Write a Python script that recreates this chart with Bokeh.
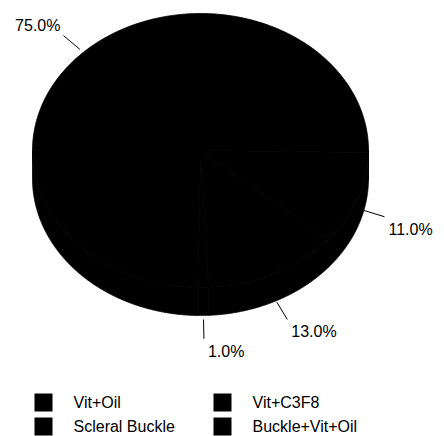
import numpy as np
from bokeh.plotting import figure
from bokeh.models import Range1d
from bokeh.core.properties import value
from bokeh.embed import file_html
from bokeh.resources import INLINE

# ---- data ----
categories = ["Vit+Oil", "Vit+C3F8", "Scleral Buckle", "Buckle+Vit+Oil"]
percents = [75.0, 11.0, 13.0, 1.0]
pct_labels = ["75.0%", "11.0%", "13.0%", "1.0%"]
colors = ["#000000", "#000000", "#000000", "#000000"]

# ---- geometry (screen-like coordinates, y downward) ----
W, H = 444, 436
cx, cy = 200.0, 150.0
a, b = 168.0, 137.0
depth = 28.0
start_deg = 269.2  # slices go clockwise from here
FONT = "Liberation Sans"

p = figure(width=W, height=H, output_backend="svg", toolbar_location=None,
           x_range=Range1d(0, W), y_range=Range1d(H, 0),
           min_border=0, min_border_left=0, min_border_right=0,
           min_border_top=0, min_border_bottom=0)
p.axis.visible = False
p.grid.visible = False
p.outline_line_color = None
p.background_fill_color = "white"
p.border_fill_color = "white"

total = sum(percents)
angles = np.cumsum([0.0] + [v / total * 360.0 for v in percents])

def ell(theta_deg, r=1.0, dz=0.0):
    t = np.radians(theta_deg)
    return cx + r * a * np.cos(t), cy - r * b * np.sin(t) + dz

# side walls first (front half only: angles in [k*360-180, k*360])
for i, v in enumerate(percents):
    t0 = start_deg - angles[i]
    t1 = start_deg - angles[i + 1]
    lo, hi = min(t0, t1), max(t0, t1)
    for k in (-1, 0, 1, 2):
        f_lo, f_hi = k * 360.0 - 180.0, k * 360.0
        s_lo, s_hi = max(lo, f_lo), min(hi, f_hi)
        if s_hi - s_lo <= 0:
            continue
        ts = np.linspace(s_lo, s_hi, 150)
        xs_top, ys_top = ell(ts)
        xs = list(xs_top) + list(xs_top[::-1])
        ys = list(ys_top) + list((ys_top + depth)[::-1])
        p.patch(xs, ys, fill_color=colors[i], line_color="black", line_width=0.8)

# top faces
for i, v in enumerate(percents):
    t0 = start_deg - angles[i]
    t1 = start_deg - angles[i + 1]
    ts = np.linspace(t0, t1, 200)
    xs, ys = ell(ts)
    p.patch([cx] + list(xs), [cy] + list(ys), fill_color=colors[i],
            line_color="black", line_width=0.8)

# leader lines and labels
for i, v in enumerate(percents):
    mid = start_deg - (angles[i] + angles[i + 1]) / 2.0
    s = np.sin(np.radians(mid))
    dz = depth * (-s) if s < 0 else 0.0
    x0, y0 = ell(mid, 1.03, dz)
    x1, y1 = ell(mid, 1.17, dz)
    p.line([x0, x1], [y0, y1], line_color="black", line_width=1)
    if np.cos(np.radians(mid)) >= 0:
        p.text([x1 + 4], [y1 + 4], text=[pct_labels[i]], text_align="left",
               text_baseline="top", text_font=value(FONT),
               text_font_size="16px", text_color="black")
    else:
        p.text([x1 - 3], [y1 - 2], text=[pct_labels[i]], text_align="right",
               text_baseline="bottom", text_font=value(FONT),
               text_font_size="16px", text_color="black")

# legend (2 columns, row-major)
sq = 18
for i, lab in enumerate(categories):
    col, row = i % 2, i // 2
    lx = 34 + col * 179
    ly = 393 + row * 24
    p.quad(left=[lx], right=[lx + sq], top=[ly], bottom=[ly + sq],
           fill_color=colors[i], line_color=None)
    p.text([lx + sq + 21], [ly + sq / 2], text=[lab], text_align="left",
           text_baseline="middle", text_font=value(FONT),
           text_font_size="16px", text_color="black")

open("out.html", "w").write(file_html(p, INLINE))
